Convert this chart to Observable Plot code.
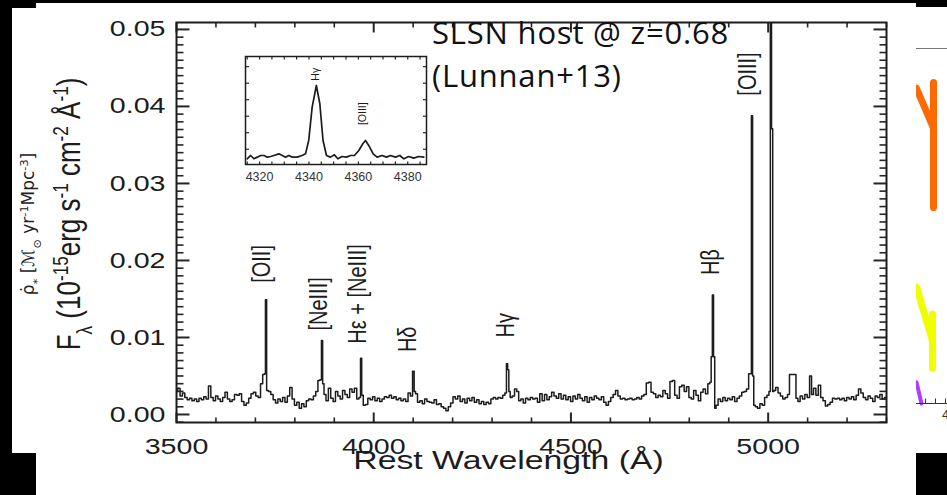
<!DOCTYPE html>
<html>
<head>
<meta charset="utf-8">
<script src="https://cdn.jsdelivr.net/npm/d3@7"></script>
<script src="https://cdn.jsdelivr.net/npm/@observablehq/plot@0.6"></script>
<style>
  html, body { margin: 0; padding: 0; background: #fff; }
  #stage { position: relative; width: 947px; height: 495px; overflow: hidden; background: #fff; }
  #stage > div { position: absolute; }
  .blk { background: #000; }
  .note { position: absolute; font-family: "Open Sans", sans-serif; font-size: 31px; line-height: 31px; letter-spacing: 0.8px; color: #111; white-space: nowrap; }
</style>
</head>
<body>
<div id="stage">
  <div id="main" style="left:0;top:0"></div>
  <div id="inset" style="left:230px;top:46px"></div>
  <div id="side" style="left:916px;top:0;width:31px;height:453px;overflow:hidden"></div>
  <div id="notes" style="left:0;top:0"></div>
  <div class="blk" style="left:0;top:0;width:947px;height:3px"></div>
  <div class="blk" style="left:0;top:0;width:36px;height:8px"></div>
  <div class="blk" style="left:0;top:0;width:12px;height:453px"></div>
  <div class="blk" style="left:0;top:453px;width:36px;height:42px"></div>
  <div class="blk" style="left:916px;top:0;width:31px;height:7px"></div>
  <div class="blk" style="left:916px;top:453px;width:31px;height:42px"></div>
</div>
<script>
// Rest-frame host spectrum: wavelength (Å) and flux (10^-15 erg s^-1 cm^-2 Å^-1)
const wavelength = [
  3500,3506,3512,3518,3524,3530,3536,3542,3548,3554,
  3560,3566,3572,3578,3584,3590,3596,3602,3608,3614,
  3620,3626,3632,3638,3644,3650,3656,3662,3668,3674,
  3680,3686,3692,3698,3704,3710,3716,3721,3724,3727,
  3730,3736,3742,3748,3754,3760,3766,3772,3778,3784,
  3790,3796,3802,3808,3814,3820,3826,3832,3838,3844,
  3850,3856,3861,3866,3869,3872,3876,3882,3888,3894,
  3900,3906,3912,3918,3924,3930,3936,3942,3948,3954,
  3960,3965,3968,3971,3976,3982,3988,3994,4000,4006,
  4012,4018,4024,4030,4036,4042,4048,4054,4060,4066,
  4072,4078,4084,4090,4096,4101,4104,4108,4114,4120,
  4126,4132,4138,4144,4150,4156,4162,4168,4174,4180,
  4186,4192,4198,4204,4210,4216,4222,4228,4234,4240,
  4246,4252,4258,4264,4270,4276,4282,4288,4294,4300,
  4306,4312,4318,4324,4330,4335,4338,4341,4344,4348,
  4354,4360,4365,4370,4376,4382,4388,4394,4400,4406,
  4412,4418,4424,4430,4436,4442,4448,4454,4460,4466,
  4472,4478,4484,4490,4496,4502,4508,4514,4520,4526,
  4532,4538,4544,4550,4556,4562,4568,4574,4580,4586,
  4592,4598,4604,4610,4616,4622,4628,4634,4640,4646,
  4652,4658,4664,4670,4676,4682,4688,4694,4700,4706,
  4712,4718,4724,4730,4736,4742,4748,4754,4760,4766,
  4772,4778,4784,4790,4796,4802,4808,4814,4820,4826,
  4832,4838,4844,4850,4854,4857,4860,4863,4866,4870,
  4876,4882,4888,4894,4900,4906,4912,4918,4924,4930,
  4936,4942,4948,4953,4956,4959,4962,4965,4970,4976,
  4982,4988,4994,5000,5004,5007,5010,5013,5016,5022,
  5028,5034,5040,5046,5052,5056,5062,5068,5073,5078,
  5084,5090,5096,5102,5108,5112,5118,5124,5130,5136,
  5142,5148,5154,5160,5166,5172,5178,5184,5190,5196,
  5202,5208,5214,5220,5226,5232,5238,5244,5250,5256,
  5262,5268,5274,5280,5286,5292,5298,5304
];
const flux = [
  .0030,.0034,.0024,.0028,.0022,.0019,.0021,.0018,.0020,.0017,
  .0021,.0019,.0023,.0020,.0037,.0022,.0018,.0024,.0020,.0017,
  .0022,.0029,.0020,.0017,.0019,.0026,.0025,.0027,.0017,.0012,
  .0015,.0021,.0027,.0029,.0024,.0022,.0040,.0052,.0053,.0149,
  .0031,.0030,.0026,.0019,.0015,.0020,.0017,.0022,.0016,.0024,
  .0035,.0020,.0012,.0016,.0008,.0014,.0010,.0018,.0020,.0019,
  .0024,.0030,.0044,.0045,.0096,.0040,.0026,.0018,.0034,.0021,
  .0017,.0030,.0024,.0020,.0031,.0026,.0022,.0033,.0029,.0034,
  .0020,.0022,.0073,.0025,.0012,.0013,.0021,.0019,.0023,.0018,
  .0021,.0017,.0020,.0023,.0022,.0025,.0021,.0023,.0019,.0021,
  .0018,.0020,.0017,.0028,.0024,.0056,.0030,.0027,.0016,.0018,
  .0014,.0020,.0017,.0016,.0015,.0019,.0013,.0014,.0010,.0008,
  .0005,.0010,.0015,.0023,.0020,.0024,.0017,.0020,.0015,.0021,
  .0018,.0022,.0016,.0019,.0014,.0017,.0013,.0016,.0014,.0020,
  .0022,.0020,.0022,.0021,.0025,.0028,.0066,.0058,.0030,.0022,
  .0024,.0033,.0030,.0018,.0020,.0015,.0021,.0019,.0022,.0020,
  .0021,.0016,.0027,.0018,.0026,.0019,.0023,.0029,.0024,.0021,
  .0027,.0020,.0025,.0019,.0023,.0017,.0024,.0020,.0026,.0021,
  .0018,.0023,.0016,.0022,.0019,.0024,.0021,.0019,.0023,.0016,
  .0012,.0017,.0022,.0026,.0031,.0024,.0020,.0021,.0019,.0020,
  .0021,.0019,.0020,.0022,.0020,.0024,.0026,.0041,.0042,.0029,
  .0027,.0022,.0025,.0023,.0031,.0027,.0021,.0043,.0044,.0025,
  .0021,.0036,.0038,.0030,.0036,.0022,.0020,.0031,.0025,.0018,
  .0029,.0033,.0027,.0040,.0042,.0075,.0155,.0075,.0008,.0012,
  .0020,.0017,.0022,.0018,.0021,.0019,.0023,.0017,.0021,.0024,
  .0029,.0030,.0033,.0053,.0053,.0388,.0050,.0012,.0010,.0008,
  .0014,.0012,.0022,.0025,.0030,.0620,.0371,.0030,.0031,.0035,
  .0028,.0024,.0020,.0022,.0026,.0052,.0052,.0052,.0021,.0017,
  .0024,.0020,.0026,.0022,.0050,.0026,.0034,.0025,.0038,.0022,
  .0018,.0011,.0013,.0016,.0021,.0020,.0021,.0019,.0021,.0018,
  .0022,.0020,.0023,.0019,.0025,.0033,.0028,.0022,.0019,.0024,
  .0021,.0017,.0024,.0022,.0026,.0020,.0022,.0022
];

// Emission-line identifications and where their labels sit
const lineNames = ["[OII]", "[NeIII]", "Hε + [NeIII]", "Hδ", "Hγ", "Hβ", "[OIII]"];
const lineLabelWave = [3716, 3860, 3959, 4086, 4335, 4855, 4947];
const lineLabelFlux = [0.0171, 0.0109, 0.0092, 0.0081, 0.0100, 0.0181, 0.0414];

// Axis ticks
const yMajor = [0, 0.01, 0.02, 0.03, 0.04, 0.05];
const yMinor = d3.range(-1, 51).filter(i => i % 10 !== 0).map(i => i / 1000);
const xMajor = [3500, 4000, 4500, 5000];
const xMinor = d3.range(3600, 5301, 100).filter(v => v % 500 !== 0);
const xTitle = "Rest Wavelength (Å)";

// Zoom on Hγ and [OIII] 4363
const insetWave = [
  4315.0,4316.4,4317.7,4319.1,4320.4,4321.8,4323.1,4324.5,4325.8,4327.8,
  4329.2,4330.5,4331.9,4333.2,4335.2,4337.2,4338.6,4339.9,4341.3,4343.0,
  4344.4,4345.7,4347.1,4348.7,4350.3,4351.7,4353.4,4355.2,4356.8,4358.4,
  4360.2,4361.8,4362.9,4364.2,4366.0,4367.6,4369.6,4371.4,4373.0,4375.0,
  4376.8,4378.4,4380.4,4382.4,4384.4,4386.5
];
const insetFlux = [
  0.00145,0.00171,0.00145,0.00158,0.00171,0.00171,0.00158,0.00163,0.00171,0.00184,
  0.00171,0.00158,0.00171,0.00158,0.00158,0.00171,0.00184,0.00289,0.00551,0.00722,
  0.00578,0.00289,0.00171,0.00158,0.00176,0.00145,0.00163,0.00158,0.00171,0.00171,
  0.0021,0.00263,0.00289,0.0025,0.00184,0.00158,0.00171,0.00158,0.00171,0.00158,
  0.00171,0.00145,0.00163,0.0015,0.00163,0.00158
];
const insetXTicks = [4320, 4340, 4360, 4380];
const insetXMinor = d3.range(4315, 4388, 5);
const insetYTicks = [0.0022, 0.0035, 0.0048, 0.0061, 0.0074, 0.0087];
const insetNames = ["Hγ", "[OIII]"];
const insetLabelWave = [4342.7, 4361.7];
const insetLabelFlux = [0.0076, 0.0041];

// Neighbouring star-formation-history panel peeking out on the right (z, log ρ̇*)
const sideTicks = [3.6, 3.8, 4.0];
const orangeArm = [{z: 3.42, r: -0.78}, {z: 3.76, r: -1.06}];
const orangeBar = [{z: 3.76, r: -0.74}, {z: 3.76, r: -1.62}];
const yellowArm = [{z: 3.42, r: -2.18}, {z: 3.74, r: -2.56}];
const yellowBar = [{z: 3.74, r: -2.37}, {z: 3.74, r: -2.75}];
const violetArm = [{z: 3.42, r: -2.85}, {z: 3.52, r: -3.0}];

const annotation = ["SLSN host @ z=0.68", "(Lunnan+13)"];

const ink = "#1c1c1c";
const tickInk = "#262626";
const sans = "'Liberation Sans', Arial, Helvetica, sans-serif";

// Inward-pointing frame ticks: tick length given in px, converted to data units
function frameTicks(xDom, yDom, fw, fh, spec) {
  const ax = (xDom[1] - xDom[0]) / fw, ay = (yDom[1] - yDom[0]) / fh;
  const marks = [];
  for (const {values, len, sw, dir} of spec) {
    const rows = values.map(v => ({v}));
    if (dir === "y") {
      marks.push(Plot.link(rows, {x1: () => xDom[0], x2: () => xDom[0] + len * ax, y1: "v", y2: "v", stroke: tickInk, strokeWidth: sw}));
      marks.push(Plot.link(rows, {x1: () => xDom[1] - len * ax, x2: () => xDom[1], y1: "v", y2: "v", stroke: tickInk, strokeWidth: sw}));
    } else {
      marks.push(Plot.link(rows, {x1: "v", x2: "v", y1: () => yDom[0], y2: () => yDom[0] + len * ay, stroke: tickInk, strokeWidth: sw}));
      marks.push(Plot.link(rows, {x1: "v", x2: "v", y1: () => yDom[1] - len * ay, y2: () => yDom[1], stroke: tickInk, strokeWidth: sw}));
    }
  }
  return marks;
}

// ---------- main spectrum ----------
const W = 947, H = 495, mL = 176, mR = 61, mT = 22, mB = 73;
const fw = W - mL - mR, fh = H - mT - mB;
const xDom = [3500, 5300], yDom = [-0.00104, 0.0509];
const spectrum = wavelength.map((w, i) => ({w, f: flux[i]}));
const labels = lineNames.map((name, i) => ({name, w: lineLabelWave[i], f: lineLabelFlux[i]}));

const mainSvg = Plot.plot({
  width: W,
  height: H,
  marginLeft: mL,
  marginRight: mR,
  marginTop: mT,
  marginBottom: mB,
  x: {domain: xDom},
  y: {domain: yDom},
  style: {fontFamily: sans, fontSize: "22px", color: ink, background: "#fff"},
  marks: [
    Plot.lineY(spectrum, {x: "w", y: "f", curve: "step", stroke: ink, strokeWidth: 1.5, clip: true}),
    ...frameTicks(xDom, yDom, fw, fh, [
      {values: yMinor, len: 7, sw: 1.6, dir: "y"},
      {values: yMajor, len: 13, sw: 2, dir: "y"},
      {values: xMinor, len: 5, sw: 1.6, dir: "x"},
      {values: xMajor, len: 10, sw: 2, dir: "x"}
    ]),
    Plot.frame({stroke: ink, strokeWidth: 2}),
    Plot.axisY(yMajor, {anchor: "left", tickSize: 0, tickPadding: 11, tickFormat: d3.format(".2f"), label: null, fontSize: 22}),
    Plot.axisX(xMajor, {anchor: "bottom", tickSize: 0, tickPadding: 16, tickFormat: d3.format("d"), label: null, fontSize: 22}),
    Plot.text([xTitle], {frameAnchor: "bottom", text: d => d, dx: -23, dy: 46, fontSize: 26}),
    Plot.text(labels, {x: "w", y: "f", text: "name", rotate: -90, textAnchor: "start", fontSize: 20, fill: ink})
  ]
});
document.getElementById("main").append(mainSvg);

// horizontally widened lettering, as in the printed figure
const widen = 1.3;
const tickText = new Set([...yMajor.map(d3.format(".2f")), ...xMajor.map(String), xTitle]);
const lineText = new Set(lineNames);
mainSvg.querySelectorAll("text").forEach(t => {
  const s = t.textContent;
  if (tickText.has(s)) {
    const w = t.getComputedTextLength();
    if (w > 0) {
      t.setAttribute("textLength", w * widen);
      t.setAttribute("lengthAdjust", "spacingAndGlyphs");
    }
  } else if (lineText.has(s)) {
    const tr = t.getAttribute("transform");
    if (tr) t.setAttribute("transform", tr + ` scale(1,${widen})`);
  }
});

// rotated axis titles with sub/superscripts
function richText(parent, parts, size) {
  parts.forEach(([s, shift]) => {
    const ts = parent.append("tspan").text(s);
    if (shift) ts.attr("baseline-shift", shift).attr("font-size", size * 0.66);
  });
}
const svgSel = d3.select(mainSvg);
const yTitle = svgSel.append("text")
  .attr("transform", `translate(80,214) rotate(-90) scale(1,${widen})`)
  .attr("text-anchor", "middle")
  .attr("font-family", sans)
  .attr("font-size", 26)
  .attr("fill", ink);
richText(yTitle, [["F"], ["λ", "sub"], [" (10"], ["-15", "super"], ["erg s"], ["-1", "super"], [" cm"], ["-2", "super"], [" Å"], ["-1", "super"], [")"]], 26);

const sideTitle = svgSel.append("text")
  .attr("transform", "translate(34,224) rotate(-90)")
  .attr("text-anchor", "middle")
  .attr("font-family", "'DejaVu Sans', sans-serif")
  .attr("font-size", 17)
  .attr("fill", "#222");
richText(sideTitle, [["ρ̇"], ["*", "sub"], [" [ℳ"], ["⊙", "sub"], [" yr"], ["-1", "super"], ["Mpc"], ["-3", "super"], ["]"]], 17);

// ---------- inset ----------
const iW = 210, iH = 150, iL = 15, iR = 14, iT = 10, iB = 32;
const ifw = iW - iL - iR, ifh = iH - iT - iB;
const ixDom = [4314.3, 4387.6], iyDom = [0.001, 0.0095];
const insetPts = insetWave.map((w, i) => ({w, f: insetFlux[i]}));
const insetLabels = insetNames.map((name, i) => ({name, w: insetLabelWave[i], f: insetLabelFlux[i]}));
const insetSvg = Plot.plot({
  width: iW,
  height: iH,
  marginLeft: iL,
  marginRight: iR,
  marginTop: iT,
  marginBottom: iB,
  x: {domain: ixDom},
  y: {domain: iyDom, axis: null},
  style: {fontFamily: sans, fontSize: "12.5px", color: "#333", background: "transparent"},
  marks: [
    Plot.line(insetPts, {x: "w", y: "f", stroke: ink, strokeWidth: 1.7}),
    ...frameTicks(ixDom, iyDom, ifw, ifh, [
      {values: insetYTicks, len: 3.5, sw: 1.2, dir: "y"},
      {values: insetXMinor, len: 3, sw: 1.2, dir: "x"}
    ]),
    Plot.frame({stroke: ink, strokeWidth: 1.5}),
    Plot.axisX(insetXTicks, {anchor: "bottom", tickSize: 0, tickPadding: 8, tickFormat: d3.format("d"), label: null, fontSize: 12.5}),
    Plot.text(insetLabels, {x: "w", y: "f", text: "name", rotate: -90, textAnchor: "start", fontSize: 10.5, fill: ink})
  ]
});
document.getElementById("inset").append(insetSvg);

// ---------- side panel fragment ----------
const sfh = 453 - 48 - 50;
const sxDom = [3.42, 4.04], syDom = [-3.0, -0.5];
const sideSvg = Plot.plot({
  width: 31,
  height: 453,
  marginLeft: 0,
  marginRight: 0,
  marginTop: 48,
  marginBottom: 50,
  x: {domain: sxDom},
  y: {domain: syDom, axis: null},
  style: {fontFamily: sans, fontSize: "13px", color: "#333", background: "#fff", overflow: "hidden"},
  marks: [
    Plot.ruleY([-0.5], {stroke: "#777", strokeWidth: 1}),
    Plot.line(orangeArm, {x: "z", y: "r", stroke: "#ff6a00", strokeWidth: 7, strokeLinecap: "round"}),
    Plot.line(orangeBar, {x: "z", y: "r", stroke: "#ff6a00", strokeWidth: 7, strokeLinecap: "round"}),
    Plot.line(yellowArm, {x: "z", y: "r", stroke: "#f0ff00", strokeWidth: 7, strokeLinecap: "round"}),
    Plot.line(yellowBar, {x: "z", y: "r", stroke: "#f0ff00", strokeWidth: 7, strokeLinecap: "round"}),
    Plot.line(violetArm, {x: "z", y: "r", stroke: "#b03cff", strokeWidth: 4, strokeLinecap: "round"}),
    Plot.ruleY([-3.0], {stroke: "#333", strokeWidth: 1}),
    Plot.link(sideTicks.map(v => ({v})), {x1: "v", x2: "v", y1: () => -3.0, y2: () => -3.0 + 5 * (syDom[1] - syDom[0]) / sfh, stroke: "#333"}),
    Plot.axisX([4], {anchor: "bottom", tickSize: 0, tickPadding: 6, tickFormat: d3.format("d"), label: null})
  ]
});
document.getElementById("side").append(sideSvg);

// ---------- annotation ----------
const notes = document.getElementById("notes");
annotation.forEach((s, i) => {
  const d = document.createElement("div");
  d.className = "note";
  d.style.left = "432px";
  d.style.top = (i === 0 ? 17 : 60) + "px";
  d.textContent = s;
  notes.append(d);
});
</script>
</body>
</html>
